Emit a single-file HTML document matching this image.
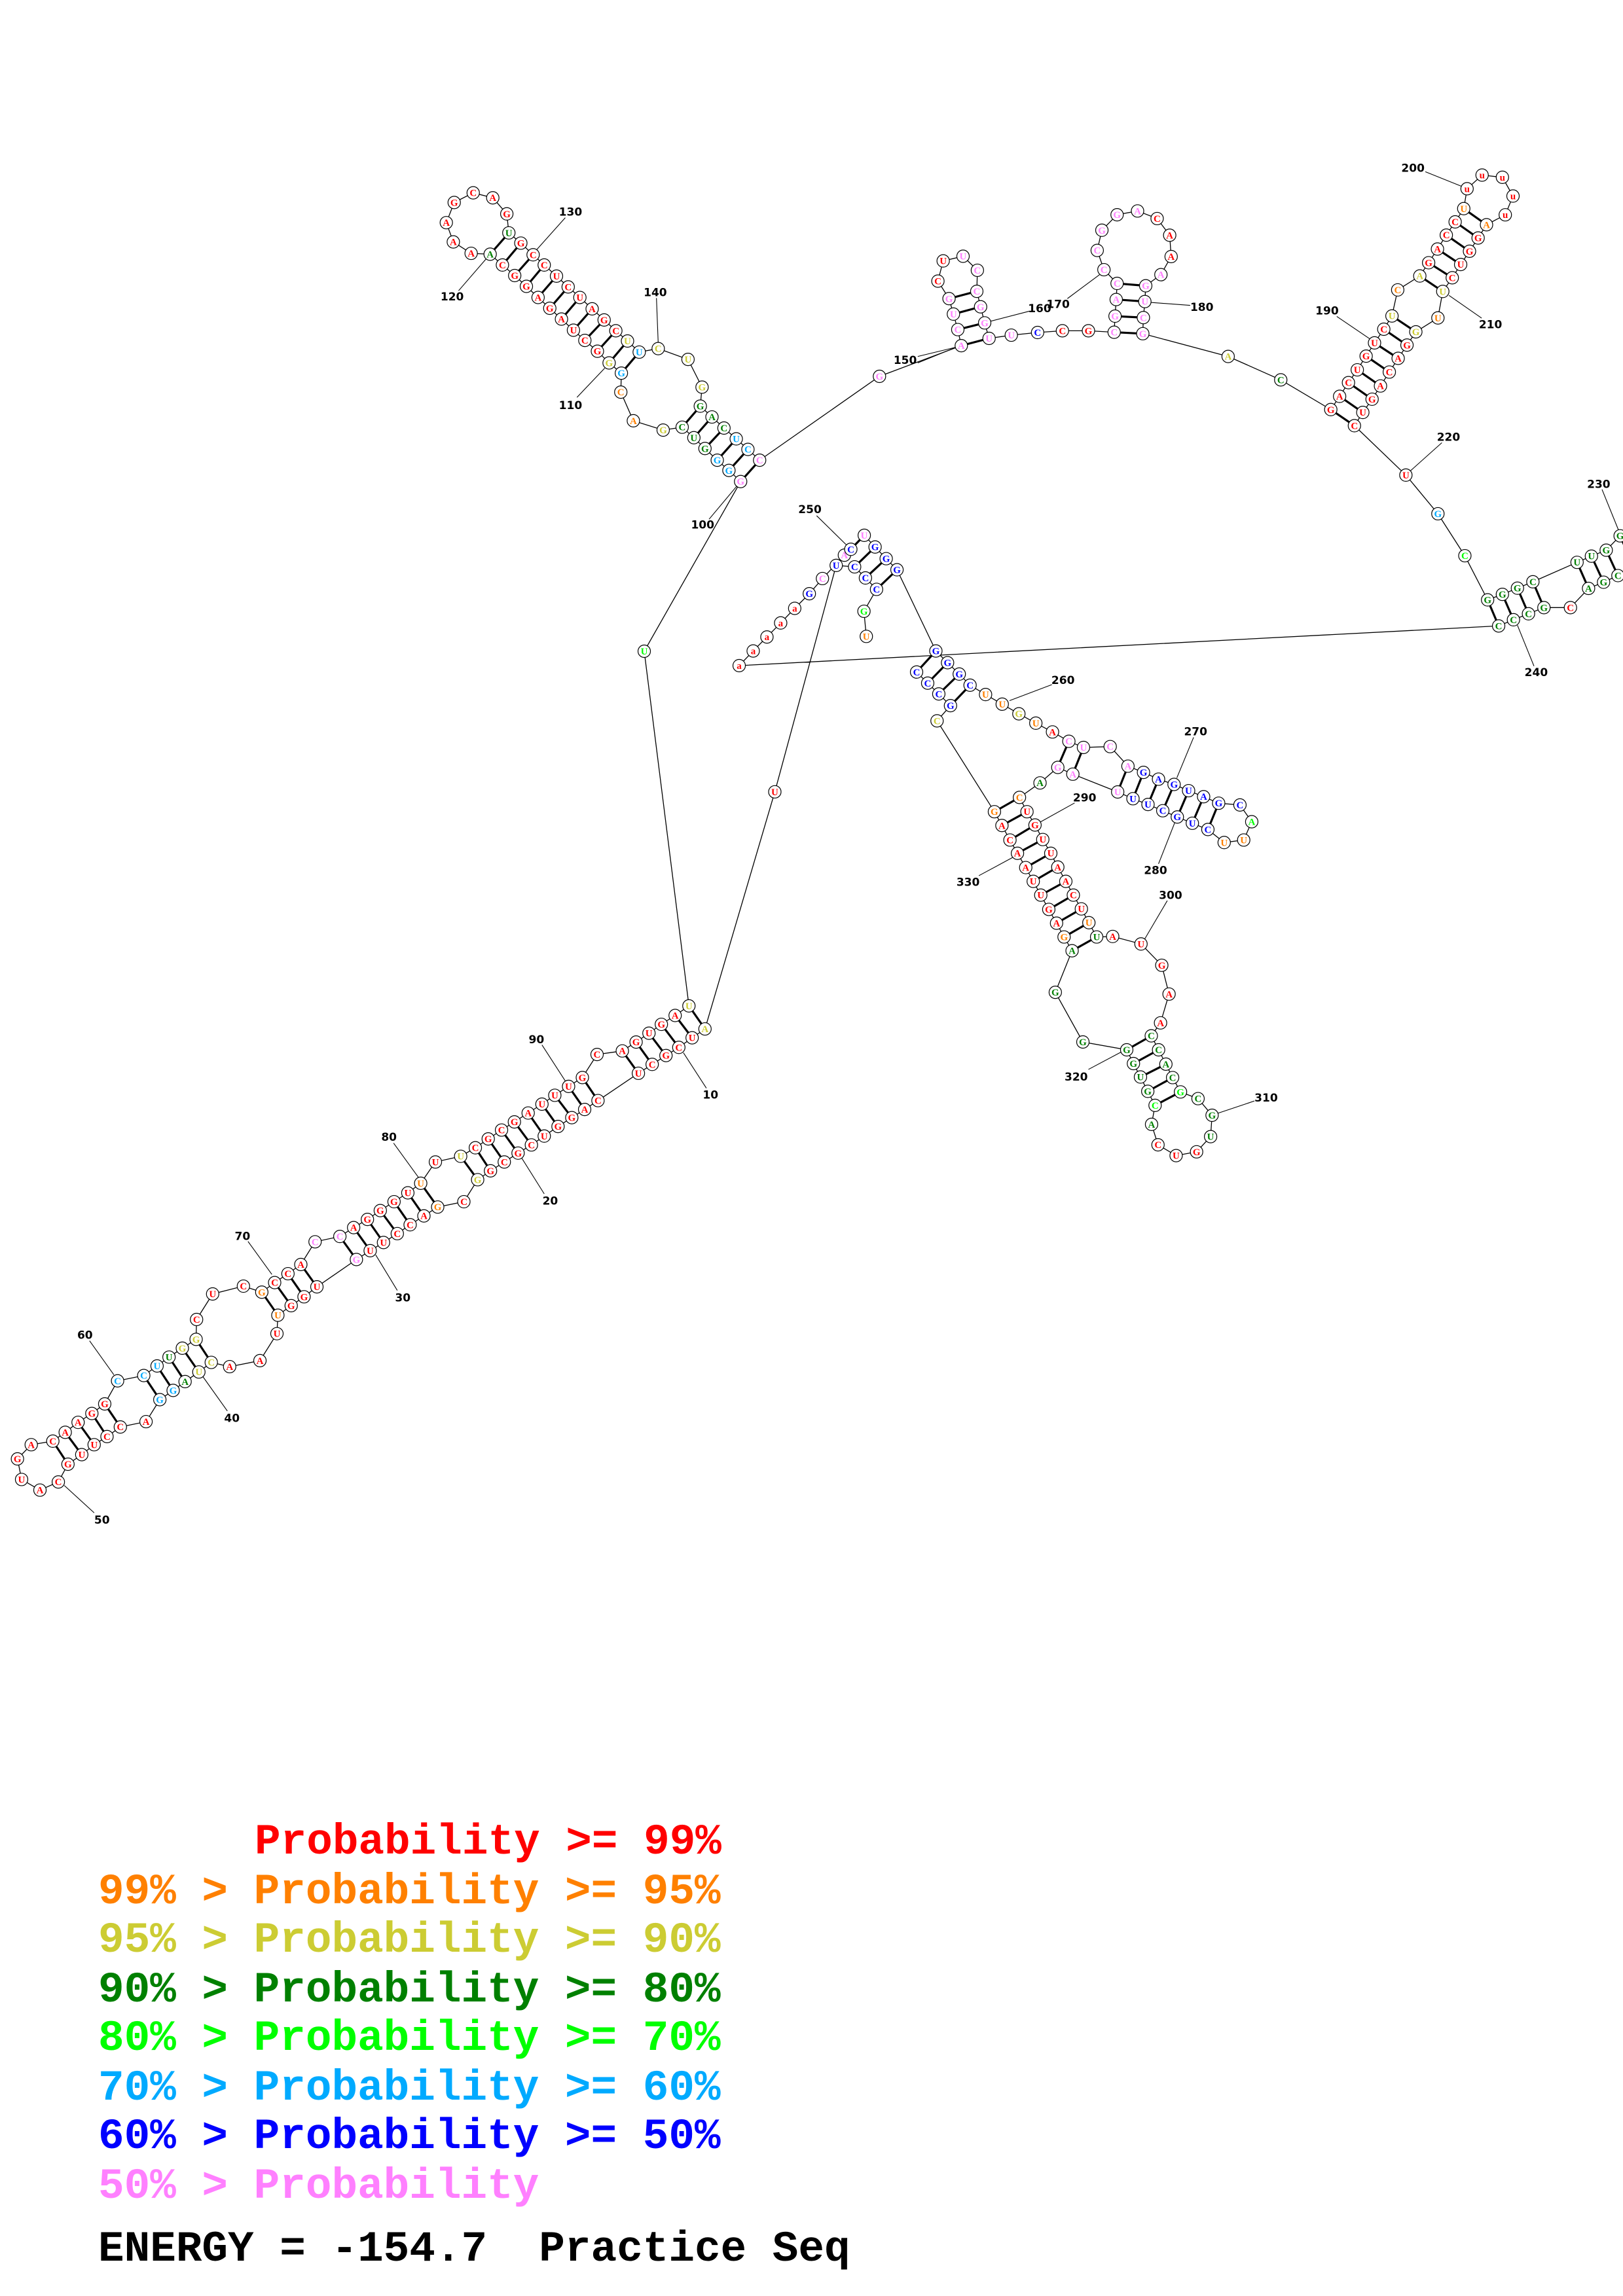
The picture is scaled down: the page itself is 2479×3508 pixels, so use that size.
<!DOCTYPE html>
<html><head><meta charset="utf-8">
<style>
html,body{margin:0;padding:0;background:#fff;}
svg{display:block;}
.lg{font-family:"Liberation Mono",monospace;font-weight:bold;font-size:66px;white-space:pre;}
</style></head>
<body>
<svg id="s" xmlns="http://www.w3.org/2000/svg" width="2479" height="3508" viewBox="0 0 2479 3508">
<rect width="2479" height="3508" fill="#fff"/>
<g id="bb"></g><g id="rg"></g><g id="ld"></g><g id="nd"></g><g id="lb"></g>
<text class="lg" x="389" y="2832" fill="#ff0000">Probability &gt;= 99%</text>
<text class="lg" x="150" y="2908" fill="#ff8000">99% &gt; Probability &gt;= 95%</text>
<text class="lg" x="150" y="2982" fill="#cccc33">95% &gt; Probability &gt;= 90%</text>
<text class="lg" x="150" y="3058" fill="#008000">90% &gt; Probability &gt;= 80%</text>
<text class="lg" x="150" y="3132" fill="#00ff00">80% &gt; Probability &gt;= 70%</text>
<text class="lg" x="150" y="3208" fill="#00aaff">70% &gt; Probability &gt;= 60%</text>
<text class="lg" x="150" y="3282" fill="#0000ff">60% &gt; Probability &gt;= 50%</text>
<text class="lg" x="150" y="3358" fill="#ff80ff">50% &gt; Probability</text>
<text class="lg" x="150" y="3454" fill="#000">ENERGY = -154.7&#160; Practice Seq</text>
</svg>
<script>
var T={0:[0,0,1,1],1:[1300,1500,2.24,2.24],2:[0,1500,1.4255,1.845],3:[600,250,2.24,2.24],4:[1300,250,2.24,2.24],5:[1950,200,2.964,2.964],6:[1950,650,2.964,2.964],7:[1100,750,2.24,2.24],8:[1450,1050,2.613,2.613]};
function tf(z,x,y){var t=T[z];return [t[0]+x/t[2],t[1]+y/t[3]];}
var C={r:'#ff0000',o:'#ff8000',y:'#cccc33',g:'#008000',l:'#00ff00',c:'#00aaff',b:'#0000ff',p:'#ff80ff'};
var SEQ=[
[7,"500 498 Uo;492 412 Gl;535 337 Cb;497 298 Cb;460 260 Cb;397 255 Ub;187 1030 Ur"],
[2,"1535 133 Ay;1507 158 Ur;1478 185 Cr;1450 208 Gr;1420 233 Cr;1390 258 Ur;1302 335 Cr;1273 360 Ar;1245 383 Gr;1215 408 Gr;1185 435 Ur;1157 460 Cr;1128 483 Gr;1098 508 Cr;1068 533 Gr;1040 558 Gy;1010 620 Cr;953 635 Go;923 660 Ar;893 685 Cr;865 710 Cr;835 735 Ur;806 758 Ur;776 783 Gp;690 860 Ur;662 888 Gr;634 913 Gr;605 940 Uo;603 992 Ur;566 1068 Ar;500 1085 Ar;460 1073 Cy;433 1100 Uy;403 1127 Ag;377 1152 Gc;348 1178 Gc;318 1240 Ar;262 1255 Cr;233 1282 Cr;205 1305 Ur;178 1333 Ur;148 1360 Gr;127 1410 Cr;87 1433 Ar;47 1403 Ur;38 1345 Gr;68 1305 Ar;115 1295 Cr;142 1270 Ar;170 1242 Ar;200 1217 Gr;228 1190 Gr;256 1125 Cc;313 1110 Cc;342 1083 Uc;368 1058 Ug;397 1033 Gy;427 1008 Gy;428 952 Cr;463 880 Ur;530 858 Cr;570 875 Go;598 848 Cr;627 823 Cr;655 797 Ar;686 733 Cp;740 718 Cp;770 693 Ar;800 670 Gr;828 645 Gr;858 620 Gr;888 595 Ur;916 568 Uo;948 508 Ur;1003 492 Uy;1035 468 Cr;1063 443 Gr;1092 418 Cr;1120 395 Gr;1150 370 Ar;1180 345 Ur;1208 320 Ur;1238 295 Ur;1268 270 Gr;1300 205 Cr;1355 195 Ar;1385 170 Gr;1413 145 Ur;1440 120 Gr;1470 95 Ar;1500 68 Uy"],
[0,"984 995 Ul"],
[3,"1190 1088 Gp;1150 1050 Gc;1110 1015 Gc;1068 975 Gg;1030 938 Ug;990 902 Cg;925 912 Gy;823 880 Ao;780 782 Co;782 717 Gc;740 682 Gy;700 642 Gr;657 605 Cr;618 570 Ur;577 532 Ar;537 495 Gr;497 458 Ar;457 420 Gr;417 383 Gr;375 347 Cr;333 310 Ag;268 307 Ar;207 268 Ar;183 202 Ar;210 133 Gr;275 100 Cr;342 117 Ar;390 172 Gr;397 237 Ug;438 272 Gr;480 312 Cr;518 347 Cr;560 385 Ur;600 422 Cr;640 458 Ur;682 497 Ar;723 535 Gr;763 572 Cr;803 607 Uy;843 645 Uc;908 633 Cy;1010 670 Uy;1058 765 Gy;1052 830 Gg;1092 867 Ag;1133 905 Cg;1175 942 Uc;1215 978 Cc;1255 1015 Cp"],
[4,"97 728 Gp;377 623 Ap;365 568 Cp;350 515 Up;335 462 Gp;297 402 Cr;315 333 Ur;383 317 Up;432 365 Cp;430 437 Cp;443 490 Gp;457 545 Gp;472 598 Up;548 587 Up;638 578 Cb;723 572 Cr;812 572 Gr;900 577 Cp;903 522 Gp;907 465 Ap;910 410 Cp;865 363 Cp;842 297 Cp;858 228 Gp;910 175 Gp;980 162 Ap;1047 188 Cr;1090 245 Ar;1095 318 Ar;1060 380 Ap;1008 418 Gp;1005 472 Up;1000 527 Cp;998 582 Gp;1290 660 Ay;1470 740 Cg"],
[5,"245 1262 Gr;285 1202 Ar;325 1140 Cr;365 1082 Ur;405 1020 Gr;443 960 Ur;485 898 Cr;522 838 Uy;548 720 Co;648 657 Ay;688 597 Gr;728 535 Ar;768 472 Cr;808 412 Cr;847 352 Uo;862 262 ur;930 200 ur;1022 210 ur;1070 295 ur;1035 380 ur;950 425 Ao;912 485 Gr;873 545 Gr;833 605 Ur;795 665 Cr;752 727 Uy;730 847 Uo;630 910 Gy;590 970 Gr;550 1030 Ar;510 1092 Cr;470 1155 Ar;432 1215 Gr;390 1275 Ur;352 1335 Cr"],
[6,"585 225 Ur;730 400 Gc;852 590 Cl;955 790 Gg;1022 765 Gg;1090 737 Gg;1160 708 Cg;1360 620 Ug;1425 592 Ug;1492 565 Gg;1555 500 Gg;1625 440 Gg;1620 650 Cg;1545 680 Cg;1480 710 Gg;1412 738 Ag;1330 825 Cr;1210 825 Gg;1140 853 Cg;1072 880 Cg;1005 908 Cg"],
[7,"65 598 ar;113 548 ar;160 500 ar;207 452 ar;255 402 ar;305 352 Gb;350 300 Cp;425 220 Ap;447 200 Cb;493 152 Up;530 192 Gb;568 232 Gb;605 270 Gb;738 548 Gb;778 588 Gb;818 627 Gb;855 665 Cb;908 697 Uo;965 730 Uo;1022 763 Gy;1080 795 Uo;1137 825 Ar;1193 857 Cp;1243 878 Up"],
[8,"642 237 Cp;713 315 Ap;775 340 Gb;835 367 Ab;897 388 Gb;955 413 Ub;1015 437 Ab;1075 463 Gb;1160 470 Cb;1207 537 Al;1175 610 Uo;1097 620 Uo;1032 568 Cb;970 543 Ub;910 518 Gb;852 493 Cb;793 468 Ub;733 445 Ub;672 418 Up;493 347 Ap;433 320 Gp;362 382 Ag;280 440 Co;310 497 Ur;342 550 Gr;373 608 Ur;405 663 Ur;433 718 Ar;465 775 Ar;495 830 Cr;527 885 Ur;557 940 Uo;588 997 Ug;652 995 Ar;765 1025 Ur;848 1110 Gr;877 1225 Ar;843 1340 Ar"],
[1,"1027 185 Cg;1052 233 Cg;1077 282 Ag;1100 328 Cg;1127 377 Gl;1187 400 Cg;1235 457 Gg;1230 530 Ug;1182 582 Gr;1112 595 Ur;1050 558 Cr;1028 488 Ag;1040 423 Cl;1015 375 Gg;990 326 Ug;966 280 Gg;943 233 Gg;793 206 Gg"],
[8,"423 1218 Gg;490 1052 Ag;458 997 Go;428 942 Ar;397 887 Gr;365 830 Ur;335 775 Ur;305 720 Ar;272 663 Ar;242 610 Cr;210 552 Ar;180 497 Go"],
[7,"742 787 Cy;788 735 Gb;748 695 Cb;710 658 Cb;672 620 Cb"]
];
var RG=[
[2,"1500 68 1535 133;1470 95 1507 158;1440 120 1478 185;1413 145 1450 208;1385 170 1420 233;1355 195 1390 258;1268 270 1302 335;1238 295 1273 360;1208 320 1245 383;1180 345 1215 408;1150 370 1185 435;1120 395 1157 460;1092 418 1128 483;1063 443 1098 508;1035 468 1068 533;1003 492 1040 558;916 568 953 635;888 595 923 660;858 620 893 685;828 645 865 710;800 670 835 735;770 693 806 758;740 718 776 783;655 797 690 860;627 823 662 888;598 848 634 913;570 875 605 940;427 1008 460 1073;397 1033 433 1100;368 1058 403 1127;342 1083 377 1152;313 1110 348 1178;228 1190 262 1255;200 1217 233 1282;170 1242 205 1305;142 1270 178 1333;115 1295 148 1360"],
[3,"333 310 397 237;375 347 438 272;417 383 480 312;457 420 518 347;497 458 560 385;537 495 600 422;577 532 640 458;618 570 682 497;657 605 723 535;700 642 763 572;740 682 803 607;782 717 843 645;990 902 1052 830;1030 938 1092 867;1068 975 1133 905;1110 1015 1175 942;1150 1050 1215 978;1190 1088 1255 1015"],
[4,"377 623 472 598;365 568 457 545;350 515 443 490;335 462 430 437;900 577 998 582;903 522 1000 527;907 465 1005 472;910 410 1008 418"],
[5,"245 1262 352 1335;285 1202 390 1275;325 1140 432 1215;365 1082 470 1155;405 1020 510 1092;443 960 550 1030;485 898 590 970;522 838 630 910;648 657 752 727;688 597 795 665;728 535 833 605;768 472 873 545;808 412 912 485;847 352 950 425"],
[6,"955 790 1005 908;1022 765 1072 880;1090 737 1140 853;1160 708 1210 825;1360 620 1412 738;1425 592 1480 710;1492 565 1545 680;1555 500 1620 650"],
[7,"447 200 493 152;460 260 530 192;497 298 568 232;535 337 605 270;672 620 738 548;710 658 778 588;748 695 818 627;788 735 855 665;1193 857 1155 945;1243 878 1207 968"],
[8,"713 315 672 418;775 340 733 445;835 367 793 468;897 388 852 493;955 413 910 518;1015 437 970 543;1075 463 1032 568;180 497 280 440;210 552 310 497;242 610 342 550;272 663 373 608;305 720 405 663;335 775 433 718;365 830 465 775;397 887 495 830;428 942 527 885;458 997 557 940;490 1052 588 997"],
[1,"943 233 1027 185;966 280 1052 233;990 326 1077 282;1015 375 1100 328;1040 423 1127 377"]
];
var LB=[
[2,"10 1547 318 1488 200 1538 300;20 1198 617 1135 495 1185 598;30 877 890 818 770 865 870;40 505 1230 440 1110 495 1210;50 222 1517 140 1420 205 1497;60 185 995 248 1108 195 1012;70 528 717 592 825 540 732;80 847 437 912 553 857 455;90 1168 162 1232 282 1180 178"],
[3,"100 1060 1235 1082 1217 1180 1100;110 608 827 630 800 725 700;120 203 455 225 435 320 325;130 608 165 590 185 490 297;140 898 440 902 460 908 615"],
[4,"150 185 672 228 660 360 628;160 645 495 610 505 475 540;170 708 480 740 462 850 380;180 1200 490 1160 485 1025 475"],
[5,"190 228 813 272 840 422 942;200 617 168 673 185 835 250;210 968 876 928 848 780 745;220 778 1385 748 1412 605 1540"],
[6,"230 1458 265 1473 290 1548 475;240 1175 1118 1165 1090 1090 905"],
[7,"250 307 63 330 85 432 185;260 1173 647 1135 663 990 718;330 848 1338 885 1317 1000 1255"],
[8,"270 983 177 975 200 908 362;280 823 730 835 705 900 540;290 540 440 500 462 360 540;300 883 830 870 852 780 1005"],
[1,"310 1420 397 1380 408 1255 450;320 770 325 812 300 925 240"]
];
var NS='http://www.w3.org/2000/svg';
function el(p,n,a,txt){var e=document.createElementNS(NS,n);for(var k in a)e.setAttribute(k,a[k]);if(txt)e.textContent=txt;document.getElementById(p).appendChild(e);return e;}
var nodes=[];
SEQ.forEach(function(s){s[1].split(';').forEach(function(t){var q=t.trim().split(/\s+/);var p=tf(s[0],+q[0],+q[1]);nodes.push([p[0],p[1],q[2][0],q[2][1]]);});});
var d='M'+nodes[0][0]+' '+nodes[0][1];for(var i=1;i<nodes.length;i++)d+=' L'+nodes[i][0].toFixed(1)+' '+nodes[i][1].toFixed(1);
el('bb','path',{d:d,fill:'none',stroke:'#000','stroke-width':1.3});
RG.forEach(function(s){s[1].split(';').forEach(function(t){var q=t.trim().split(/\s+/).map(Number);var a=tf(s[0],q[0],q[1]),b=tf(s[0],q[2],q[3]);el('rg','line',{x1:a[0],y1:a[1],x2:b[0],y2:b[1],stroke:'#000','stroke-width':3.2});});});
nodes.forEach(function(n){el('nd','circle',{cx:n[0],cy:n[1],r:9.5,fill:'#fff',stroke:'#000','stroke-width':1.2});el('nd','text',{x:n[0],y:n[1]+5,'text-anchor':'middle','font-family':'Liberation Serif, Liberation Mono, serif','font-weight':'bold','font-size':15,fill:C[n[3]]},n[2]);});
LB.forEach(function(s){s[1].split(';').forEach(function(t){var q=t.trim().split(/\s+/);var p=tf(s[0],+q[1],+q[2]);var a=tf(s[0],+q[3],+q[4]),b=tf(s[0],+q[5],+q[6]);el('ld','line',{x1:a[0],y1:a[1],x2:b[0],y2:b[1],stroke:'#000','stroke-width':1.1});el('lb','text',{x:p[0],y:p[1]+6,'text-anchor':'middle','font-family':'DejaVu Sans, sans-serif','font-weight':'bold','font-size':17,fill:'#000'},q[0]);});});
var a=tf(4,228,682),b=tf(4,360,628);el('ld','line',{x1:a[0],y1:a[1],x2:b[0],y2:b[1],stroke:'#000','stroke-width':1.1});
</script>
</body></html>
